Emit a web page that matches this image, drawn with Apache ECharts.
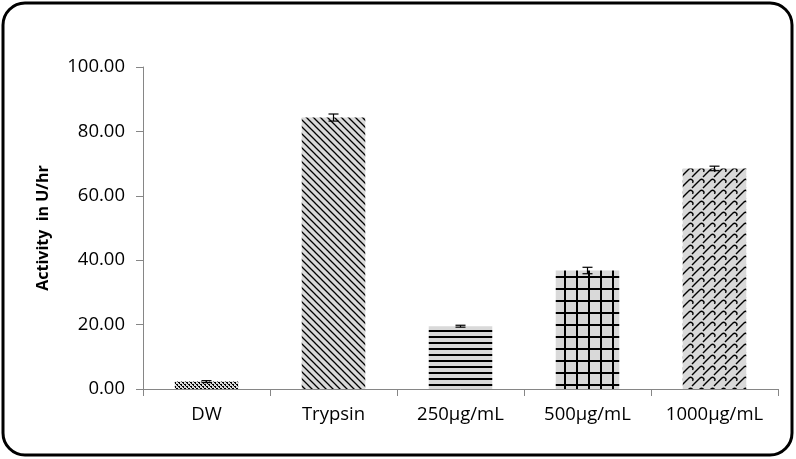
<!DOCTYPE html>
<html><head><meta charset="utf-8">
<script src="https://cdn.jsdelivr.net/npm/echarts@6/dist/echarts.min.js"></script>
<style>html,body{margin:0;padding:0;background:#fff}#c{width:796px;height:459px}</style>
</head><body><div id="c"></div>
<script>
const categories = ['DW', 'Trypsin', '250µg/mL', '500µg/mL', '1000µg/mL'];
const values = [2.3, 84.3, 19.5, 36.8, 68.5];
const errors = [0.3, 1.1, 0.3, 1.0, 0.7];
const yTicks = [0, 20, 40, 60, 80, 100];

const BG = '#d9d9d9';
function tile(w, h, draw) {
  const c = document.createElement('canvas');
  c.width = w; c.height = h;
  const g = c.getContext('2d');
  g.fillStyle = BG; g.fillRect(0, 0, w, h);
  g.fillStyle = '#000'; g.strokeStyle = '#000';
  draw(g);
  return c;
}
function shingle(g, dx, dy) {
  g.beginPath();
  g.moveTo(dx - 1, dy + 12);
  g.lineTo(dx + 7, dy + 4);
  g.arc(dx + 8.6, dy + 5.6, 2.3, -2.356, 0.6, false);
  g.stroke();
}
const patterns = [
  tile(4, 4, g => { g.fillRect(0, 0, 2, 1); g.fillRect(2, 2, 2, 1); g.fillRect(1,1,1,1); g.fillRect(3,3,1,1); }),
  tile(7, 7, g => { g.lineWidth = 1.3; g.beginPath();
    g.moveTo(-1, -1); g.lineTo(8, 8); g.moveTo(-8, -1); g.lineTo(1, 8); g.moveTo(6, -1); g.lineTo(15, 8); g.stroke(); }),
  tile(6, 6, g => { g.fillRect(0, 0, 6, 2); }),
  tile(12, 12, g => { g.fillRect(0, 0, 12, 2); g.fillRect(0, 0, 2, 12); }),
  tile(11, 11, g => { g.lineWidth = 1.4;
    for (const dx of [-11, 0, 11]) for (const dy of [-11, 0, 11]) shingle(g, dx, dy); })
];

const chart = echarts.init(document.getElementById('c'));
chart.setOption({
  animation: false,
  backgroundColor: '#fff',
  graphic: [{
    type: 'rect', shape: { x: 3, y: 3, width: 789, height: 452, r: 22 },
    style: { fill: 'none', stroke: '#000', lineWidth: 3 }, z: 100
  }],
  grid: { left: 143, right: 18, top: 67, bottom: 70 },
  xAxis: {
    type: 'category', data: categories,
    axisLine: { lineStyle: { color: '#868686', width: 1 } },
    axisTick: { show: true, interval: 0, length: 7, lineStyle: { color: '#868686' } },
    axisLabel: { color: '#000', fontSize: 18.5, fontFamily: 'Open Sans', margin: 16 }
  },
  yAxis: {
    type: 'value', min: 0, max: 100, interval: 20,
    name: 'Activity  in U/hr', nameLocation: 'middle', nameGap: 92, nameRotate: 90,
    nameTextStyle: { color: '#000', fontSize: 16, fontWeight: 'bold', fontFamily: 'Open Sans' },
    axisLine: { show: true, lineStyle: { color: '#868686', width: 1 } },
    axisTick: { show: true, length: 7, lineStyle: { color: '#868686' } },
    splitLine: { show: false },
    axisLabel: { color: '#000', fontSize: 18.5, fontFamily: 'Open Sans', margin: 18,
      formatter: v => v.toFixed(2) }
  },
  series: [{
    type: 'bar', barWidth: '50%',
    data: values.map((v, i) => ({ value: v, itemStyle: { color: { image: patterns[i], repeat: 'repeat' } } })),
    z: 2
  }, {
    type: 'custom',
    data: values.map((v, i) => [i, v - errors[i], v + errors[i]]),
    renderItem: (params, api) => {
      const lo = api.coord([api.value(0), api.value(1)]);
      const hi = api.coord([api.value(0), api.value(2)]);
      const hw = 5;
      const st = { stroke: '#000', lineWidth: 1.2 };
      return { type: 'group', children: [
        { type: 'line', shape: { x1: hi[0], y1: hi[1], x2: lo[0], y2: lo[1] }, style: st },
        { type: 'line', shape: { x1: hi[0] - hw, y1: hi[1], x2: hi[0] + hw, y2: hi[1] }, style: st },
        { type: 'line', shape: { x1: lo[0] - hw, y1: lo[1], x2: lo[0] + hw, y2: lo[1] }, style: st }
      ]};
    },
    z: 3
  }]
});
</script></body></html>
